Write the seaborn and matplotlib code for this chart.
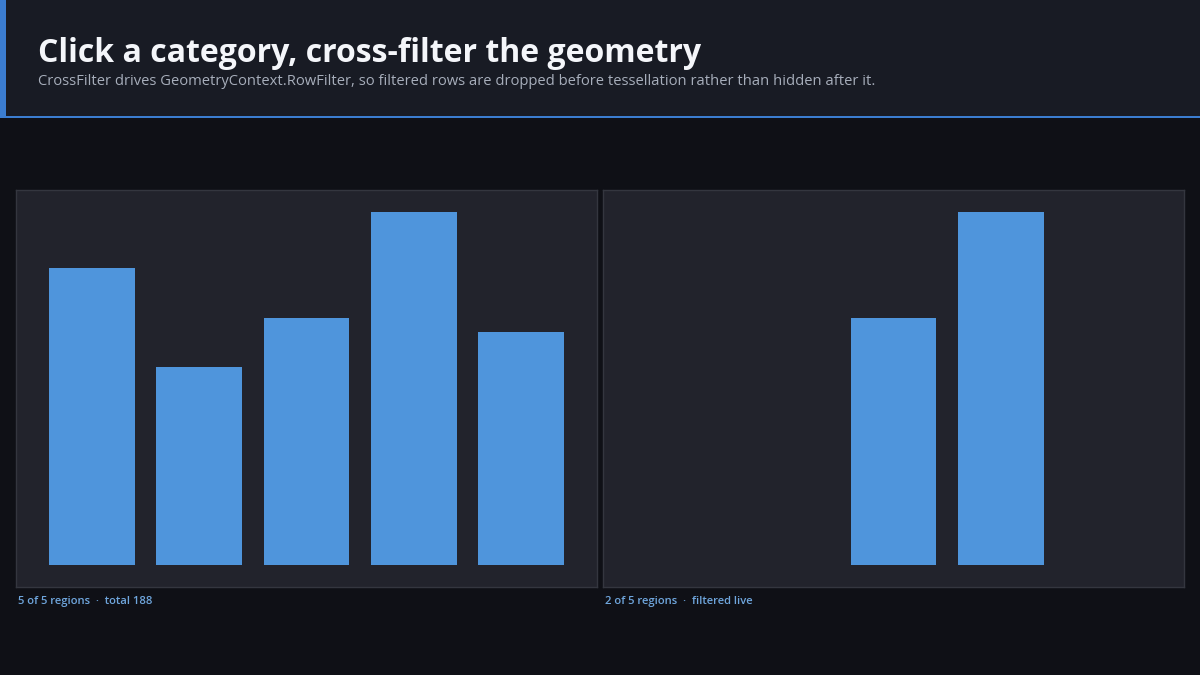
import matplotlib
matplotlib.use("Agg")
import matplotlib.pyplot as plt
import seaborn as sns
import pandas as pd
from matplotlib.patches import Rectangle

# Data
regions = ["North", "South", "East", "West", "Central"]
all_values = [42, 28, 35, 50, 33]
filtered_values = [0, 0, 35, 50, 0]

title = "Click a category, cross-filter the geometry"
subtitle = ("CrossFilter drives GeometryContext.RowFilter, so filtered rows are "
            "dropped before tessellation rather than hidden after it.")
left_caption = "5 of 5 regions  \u00b7  total 188"
right_caption = "2 of 5 regions  \u00b7  filtered live"

PAGE_BG = "#0f1016"
HEAD_BG = "#181b24"
PANEL_BG = "#22232c"
BORDER = "#34363f"
ACCENT = "#3b7dd0"
BAR = "#4f95dc"
CAPTION = "#6fa6dd"

sns.set_theme(style="dark")
plt.rcParams["font.family"] = ["Open Sans", "DejaVu Sans"]

W, H = 1200, 675
fig = plt.figure(figsize=(12, 6.75), dpi=100, facecolor=PAGE_BG)

# header band, accent stripe and underline
fig.patches.append(Rectangle((0, 1 - 116 / H), 1, 116 / H, transform=fig.transFigure,
                             facecolor=HEAD_BG, edgecolor="none", zorder=0))
fig.patches.append(Rectangle((0, 1 - 116 / H), 6 / W, 116 / H, transform=fig.transFigure,
                             facecolor=ACCENT, edgecolor="none", zorder=1))
fig.patches.append(Rectangle((0, 1 - 118 / H), 1, 2.5 / H, transform=fig.transFigure,
                             facecolor=ACCENT, edgecolor="none", zorder=1))

fig.text(38 / W, 1 - 62 / H, title, color="#f4f6fa", fontsize=23,
         fontweight="bold", va="baseline", ha="left")
fig.text(38 / W, 1 - 85 / H, subtitle, color="#a7aebb", fontsize=10.6,
         va="baseline", ha="left")


def panel(x0, values, caption):
    ax = fig.add_axes([x0 / W, 1 - 587 / H, 581 / W, 397 / H])
    df = pd.DataFrame({"region": regions, "value": values})
    sns.barplot(data=df, x="region", y="value", ax=ax, color=BAR,
                saturation=1, width=0.8, edgecolor="none")
    ax.set_facecolor(PANEL_BG)
    ax.set_xlim(-0.71, 4.71)
    ax.set_ylim(-3.1, 53.1)
    ax.set_xticks([])
    ax.set_yticks([])
    ax.set_xlabel("")
    ax.set_ylabel("")
    ax.grid(False)
    for s in ax.spines.values():
        s.set_visible(True)
        s.set_color(BORDER)
        s.set_linewidth(1)
    fig.text((x0 + 2) / W, 1 - 604 / H, caption, color=CAPTION, fontsize=8.1,
             fontweight="semibold", va="baseline", ha="left")
    return ax


panel(16, all_values, left_caption)
panel(603, filtered_values, right_caption)

fig.savefig("out.png", dpi=100, facecolor=PAGE_BG)
